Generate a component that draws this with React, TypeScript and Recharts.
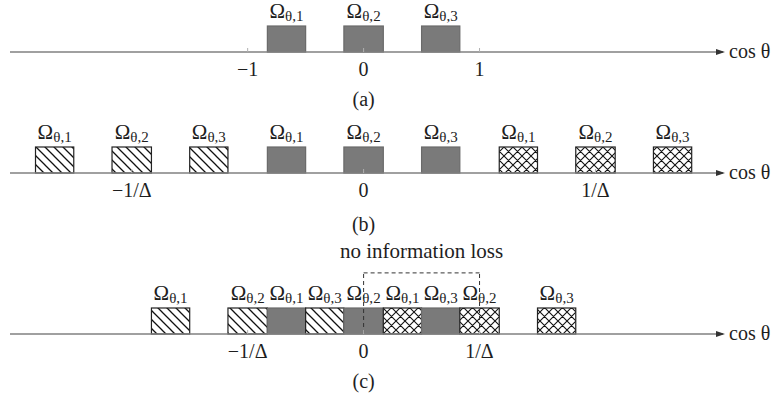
import React from 'react'
import { ComposedChart, XAxis, YAxis, ReferenceArea, ReferenceLine, ReferenceDot, Label } from 'recharts'

// cos θ range shown on every axis
const X_MIN = -3.05
const X_MAX = 3.1

// (a) original spectrum
const aFrom = [-0.83, -0.17, 0.5]
const aTo = [-0.5, 0.17, 0.83]
const aIndex = [1, 2, 3]
const aFill = ['solid', 'solid', 'solid']
const aTicks = [-1, 0, 1]
const aTickLabels = ['−1', '0', '1']

// (b) replicas at ±1/Δ, no overlap
const bFrom = [-2.83, -2.17, -1.5, -0.83, -0.17, 0.5, 1.17, 1.83, 2.5]
const bTo = [-2.5, -1.83, -1.17, -0.5, 0.17, 0.83, 1.5, 2.17, 2.83]
const bIndex = [1, 2, 3, 1, 2, 3, 1, 2, 3]
const bFill = ['hatch', 'hatch', 'hatch', 'solid', 'solid', 'solid', 'cross', 'cross', 'cross']
const bTicks = [-2, 0, 2]
const bTickLabels = ['−1/Δ', '0', '1/Δ']

// (c) replicas interleaved
const cFrom = [-1.83, -1.17, -0.83, -0.5, -0.17, 0.17, 0.5, 0.83, 1.5]
const cTo = [-1.5, -0.83, -0.5, -0.17, 0.17, 0.5, 0.83, 1.17, 1.83]
const cIndex = [1, 2, 1, 3, 2, 1, 3, 2, 3]
const cFill = ['hatch', 'hatch', 'solid', 'hatch', 'solid', 'cross', 'solid', 'cross', 'cross']
const cTicks = [-1, 0, 1]
const cTickLabels = ['−1/Δ', '0', '1/Δ']
const cBox = [0, 1]
const cBoxTop = 2.35

const SERIF = '"Liberation Serif", "Times New Roman", serif'
const INK = '#1e1e1e'
const AXIS = '#808080'
const FILLS: Record<string, string> = { solid: '#7a7a7a', hatch: 'url(#hatch)', cross: 'url(#cross)' }
const EDGES: Record<string, string> = { solid: '#6a6a6a', hatch: '#222', cross: '#222' }

function Band(props: any) {
  const { x, y, width, height, kind, k } = props
  return (
    <g>
      <rect x={x} y={y} width={width} height={height} fill={FILLS[kind]} stroke={EDGES[kind]} strokeWidth={1.2} />
      <text x={x + width / 2} y={y - 8} textAnchor="middle" fontFamily={SERIF} fill={INK}>
        <tspan fontSize={21}>Ω</tspan>
        <tspan fontSize={15} dy={3}>θ,{k}</tspan>
      </text>
    </g>
  )
}

function Arrow(props: any) {
  const { cx, cy } = props
  return (
    <g>
      <polygon points={`${cx + 2},${cy} ${cx - 7},${cy - 3} ${cx - 7},${cy + 3}`} fill="#333" />
      <text x={cx + 6} y={cy + 6} fontSize={20} fontFamily={SERIF} fill={INK}>cos θ</text>
    </g>
  )
}

function Panel({ top, height, marginTop, yMax, from, to, index, fill, ticks, tickLabels, caption, captionDy, children }: any) {
  const axisHeight = height - marginTop - 26 * yMax
  const rows = from.map((f: number, i: number) => ({ from: f, to: to[i], level: 1 }))
  return (
    <div style={{ position: 'absolute', left: 0, top }}>
      <ComposedChart width={775} height={height} data={rows} margin={{ top: marginTop, right: 52, bottom: 0, left: 10 }}>
        <XAxis
          dataKey="from"
          type="number"
          domain={[X_MIN, X_MAX]}
          allowDataOverflow
          ticks={ticks}
          interval={0}
          tickFormatter={(v: number) => tickLabels[ticks.indexOf(v)]}
          height={axisHeight}
          axisLine={{ stroke: AXIS, strokeWidth: 1.5 }}
          tickLine={{ stroke: '#b0b0b0' }}
          tickSize={-4}
          tickMargin={13.5}
          tick={{ fontSize: 20, fontFamily: SERIF, fill: INK }}
        >
          <Label
            content={({ viewBox }: any) => (
              <text
                x={viewBox.x + (viewBox.width * -X_MIN) / (X_MAX - X_MIN)}
                y={viewBox.y + captionDy}
                textAnchor="middle"
                fontSize={20}
                fontFamily={SERIF}
                fill={INK}
              >
                {caption}
              </text>
            )}
          />
        </XAxis>
        <YAxis hide dataKey="level" type="number" domain={[0, yMax]} allowDataOverflow />
        {from.map((f: number, i: number) => (
          <ReferenceArea
            key={i}
            x1={f}
            x2={to[i]}
            y1={0}
            y2={1}
            ifOverflow="visible"
            shape={(p: any) => <Band {...p} kind={fill[i]} k={index[i]} />}
          />
        ))}
        {children}
        <ReferenceDot x={X_MAX} y={0} ifOverflow="visible" shape={(p: any) => <Arrow {...p} />} />
      </ComposedChart>
    </div>
  )
}

export default function App() {
  return (
    <div style={{ position: 'absolute', left: 0, top: 0, width: 775, height: 399, background: '#fff' }}>
      <svg width={0} height={0} style={{ position: 'absolute' }}>
        <defs>
          <pattern id="hatch" width={9} height={9} patternUnits="userSpaceOnUse">
            <rect width={9} height={9} fill="#fff" />
            <path d="M0,0 L9,9 M-1,8 L1,10 M8,-1 L10,1" stroke="#111" strokeWidth={1.3} />
          </pattern>
          <pattern id="cross" width={9} height={9} patternUnits="userSpaceOnUse">
            <rect width={9} height={9} fill="#fff" />
            <path d="M0,0 L9,9 M-1,8 L1,10 M8,-1 L10,1 M0,9 L9,0 M-1,1 L1,-1 M8,10 L10,8" stroke="#111" strokeWidth={1.1} />
          </pattern>
        </defs>
      </svg>
      <Panel top={0} height={120} marginTop={26} yMax={1} from={aFrom} to={aTo} index={aIndex} fill={aFill}
        ticks={aTicks} tickLabels={aTickLabels} caption="(a)" captionDy={54} />
      <Panel top={120} height={120} marginTop={27} yMax={1} from={bFrom} to={bTo} index={bIndex} fill={bFill}
        ticks={bTicks} tickLabels={bTickLabels} caption="(b)" captionDy={58} />
      <Panel top={240} height={159} marginTop={3} yMax={3.5} from={cFrom} to={cTo} index={cIndex} fill={cFill}
        ticks={cTicks} tickLabels={cTickLabels} caption="(c)" captionDy={54}>
        <ReferenceLine segment={[{ x: cBox[0], y: 0 }, { x: cBox[0], y: cBoxTop }]} stroke="#333" strokeDasharray="4 3" ifOverflow="visible" />
        <ReferenceLine segment={[{ x: cBox[1], y: 0 }, { x: cBox[1], y: cBoxTop }]} stroke="#333" strokeDasharray="4 3" ifOverflow="visible" />
        <ReferenceLine segment={[{ x: cBox[0], y: cBoxTop }, { x: cBox[1], y: cBoxTop }]} stroke="#333" strokeDasharray="4 3" ifOverflow="visible">
          <Label value="no information loss" position="top" offset={15} fontSize={21} fontFamily={SERIF} fill={INK} />
        </ReferenceLine>
      </Panel>
    </div>
  )
}
